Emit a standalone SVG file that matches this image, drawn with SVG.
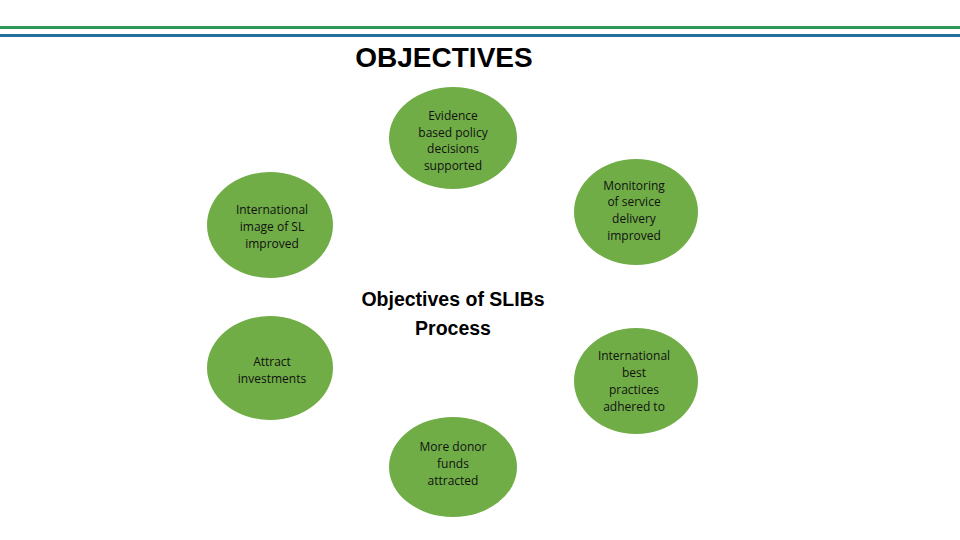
<svg xmlns="http://www.w3.org/2000/svg" width="960" height="540" viewBox="0 0 960 540">
<style>
.n{fill:#70ad47;}
.t{font-family:"Open Sans","Liberation Sans",sans-serif;font-size:12px;fill:#111;text-anchor:middle;}
.h{font-family:"Liberation Sans",Arial,sans-serif;font-weight:bold;fill:#000;text-anchor:middle;}
</style>
<rect width="960" height="540" fill="#fff"/>
<rect x="0" y="26" width="960" height="3" fill="#2e9a5a"/>
<rect x="0" y="34" width="960" height="3" fill="#23709e"/>
<text class="h" x="444" y="67" font-size="28">OBJECTIVES</text>
<g id="connectors"></g>
<g id="center"><text class="h" x="453" y="306" font-size="19.5">Objectives of SLIBs</text><text class="h" x="453" y="335" font-size="19.5">Process</text></g>
<g id="evidence"><ellipse class="n" cx="453" cy="138" rx="64" ry="51"/>
<text class="t" x="453" y="120">Evidence</text><text class="t" x="453" y="137">based policy</text><text class="t" x="453" y="153">decisions</text><text class="t" x="453" y="170">supported</text></g>
<g id="monitoring"><ellipse class="n" cx="636" cy="212" rx="62" ry="53"/>
<text class="t" x="634" y="190">Monitoring</text><text class="t" x="634" y="206">of service</text><text class="t" x="634" y="223">delivery</text><text class="t" x="634" y="240">improved</text></g>
<g id="image"><ellipse class="n" cx="270" cy="225" rx="63" ry="53"/>
<text class="t" x="272" y="214">International</text><text class="t" x="272" y="231">image of SL</text><text class="t" x="272" y="248">improved</text></g>
<g id="attract"><ellipse class="n" cx="270" cy="368" rx="63" ry="52"/>
<text class="t" x="272" y="366">Attract</text><text class="t" x="272" y="383">investments</text></g>
<g id="practices"><ellipse class="n" cx="636" cy="381" rx="62" ry="53"/>
<text class="t" x="634" y="360">International</text><text class="t" x="634" y="377">best</text><text class="t" x="634" y="394">practices</text><text class="t" x="634" y="411">adhered to</text></g>
<g id="donor"><ellipse class="n" cx="453" cy="467" rx="64" ry="50"/>
<text class="t" x="453" y="451">More donor</text><text class="t" x="453" y="468">funds</text><text class="t" x="453" y="485">attracted</text></g>
</svg>
